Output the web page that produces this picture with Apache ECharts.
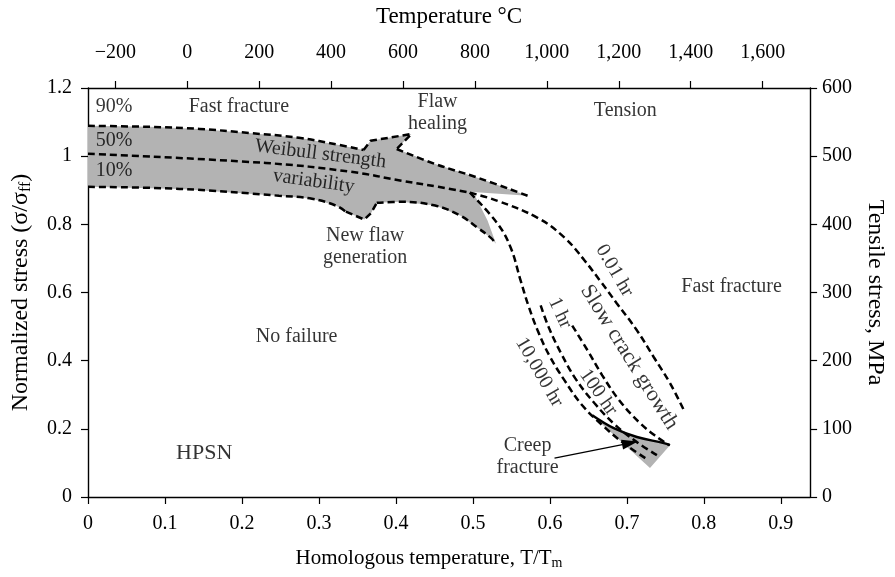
<!DOCTYPE html>
<html><head><meta charset="utf-8">
<script src="https://cdn.jsdelivr.net/npm/echarts@6/dist/echarts.min.js"></script>
<style>html,body{margin:0;padding:0;background:#fff}#c{width:895px;height:577px}</style>
</head><body><div id="c"></div>
<script>
// ---- data (T/Tm, normalized stress) ----
const xTicks = [0,0.1,0.2,0.3,0.4,0.5,0.6,0.7,0.8,0.9];
const tempTicks = [-200,0,200,400,600,800,1000,1200,1400,1600];
const stressTicks = [0,0.2,0.4,0.6,0.8,1,1.2];
const mpaTicks = [0,100,200,300,400,500,600];

const band90 = [[0,1.089],[0.08,1.086],[0.145,1.080],[0.209,1.068],[0.274,1.054],[0.326,1.033],[0.358,1.018]];
const healUpper = [[0.358,1.018],[0.367,1.045],[0.420,1.065],[0.401,1.021]];
const healLower = [[0.401,1.021],[0.451,0.977],[0.506,0.937],[0.571,0.884]];
const band50 = [[0,1.007],[0.231,0.980],[0.342,0.954],[0.407,0.928],[0.455,0.910],[0.496,0.893]];
const band10 = [[0,0.910],[0.119,0.904],[0.248,0.884],[0.291,0.875],[0.322,0.855],[0.335,0.837]];
const newFlaw = [[0.335,0.837],[0.359,0.814],[0.368,0.834],[0.375,0.863]];
const band10b = [[0.375,0.863],[0.407,0.866],[0.451,0.855],[0.484,0.825],[0.506,0.790],[0.523,0.761],[0.530,0.743]];
const tailEdge = [[0.571,0.884],[0.500,0.895],[0.506,0.869],[0.519,0.811],[0.530,0.743]];

const hr001 = [[0.496,0.893],[0.532,0.869],[0.584,0.819],[0.619,0.761],[0.645,0.694],[0.665,0.635],[0.687,0.568],[0.713,0.489],[0.735,0.410],[0.756,0.334],[0.774,0.255]];
const hr10000 = [[0.496,0.893],[0.532,0.802],[0.549,0.732],[0.562,0.635],[0.572,0.562],[0.584,0.489],[0.599,0.416],[0.619,0.342],[0.642,0.269],[0.668,0.211],[0.694,0.161],[0.724,0.114]];
const hr100 = [[0.588,0.562],[0.599,0.495],[0.614,0.424],[0.633,0.348],[0.658,0.275],[0.685,0.211],[0.713,0.161],[0.739,0.123]];
const hr1 = [[0.629,0.503],[0.649,0.430],[0.668,0.357],[0.690,0.284],[0.716,0.219],[0.739,0.176],[0.755,0.152]];

const creepLine = [[0.655,0.240],[0.683,0.202],[0.713,0.176],[0.748,0.158],[0.756,0.152]];
const creepTip = [[0.730,0.085]];
const arrowFrom = [0.606,0.114];
const arrowTo = [0.704,0.158];

const notes = [
  {t:'90%', x:0.034, y:1.144},
  {t:'50%', x:0.034, y:1.045},
  {t:'10%', x:0.034, y:0.957},
  {t:'Fast fracture', x:0.196, y:1.144},
  {t:'Weibull strength', x:0.302, y:1.006, r:-7},
  {t:'variability', x:0.293, y:0.926, r:-8},
  {t:'Flaw\nhealing', x:0.454, y:1.127},
  {t:'Tension', x:0.698, y:1.133},
  {t:'New flaw\ngeneration', x:0.360, y:0.735},
  {t:'Fast fracture', x:0.836, y:0.618},
  {t:'No failure', x:0.271, y:0.471},
  {t:'HPSN', x:0.151, y:0.129, s:22},
  {t:'Creep\nfracture', x:0.571, y:0.117},
  {t:'0.01 hr', x:0.684, y:0.664, r:-60},
  {t:'Slow crack growth', x:0.703, y:0.410, r:-58, s:22},
  {t:'1 hr', x:0.613, y:0.540, r:-65},
  {t:'100 hr', x:0.663, y:0.307, r:-55},
  {t:'10,000 hr', x:0.586, y:0.366, r:-60}
];

// ---- chart ----
const FONT = '"Liberation Serif","Times New Roman",serif';
const GRAY = '#b3b3b3';
const INK = '#000';
const bandPoly = [].concat(band90, healUpper.slice(1), healLower.slice(1), tailEdge.slice(1),
  band10b.slice().reverse().slice(1), newFlaw.slice().reverse().slice(1), band10.slice().reverse().slice(1));
const creepPoly = [].concat(creepLine, creepTip);

function polySeries(points){
  return {type:'custom', xAxisIndex:0, yAxisIndex:0, silent:true, z:1,
    data: points, encode:{x:0,y:1},
    renderItem: function(params, api){
      if (params.dataIndex !== 0) return null;
      return {type:'polygon', shape:{points: points.map(p => api.coord(p))}, style:{fill:GRAY}};
    }};
}
function dashed(data, smooth){
  return {type:'line', data: data, symbol:'none', smooth: smooth ? 0.4 : false, z:3, silent:true,
    lineStyle:{color:INK, width:2.5, type:[7,4]}};
}
const tickFont = {color:INK, fontFamily:FONT, fontSize:20};

const chart = echarts.init(document.getElementById('c'));
chart.setOption({
  animation:false,
  grid:{left:88, right:81, top:88, bottom:80, containLabel:false},
  xAxis:[
    {type:'value', min:0, max:0.938, position:'bottom',
     axisLine:{onZero:false, lineStyle:{color:INK, width:1.4}},
     axisTick:{length:7, customValues:xTicks, lineStyle:{color:INK, width:1.2}},
     splitLine:{show:false},
     axisLabel:Object.assign({customValues:xTicks, margin:17,
       formatter: v => v === 0 ? '0' : v.toFixed(1)}, tickFont),
     name:'{a|Homologous temperature, T/T}{s|m}', nameLocation:'middle', nameGap:49,
     nameTextStyle:{padding:[0,40,0,0], rich:{a:{fontFamily:FONT, fontSize:21, color:INK}, s:{fontFamily:FONT, fontSize:14, color:INK, padding:[10,0,0,0]}}}},
    {type:'value', min:-276, max:1732, position:'top',
     axisLine:{onZero:false, lineStyle:{color:INK, width:1.4}},
     axisTick:{length:7, customValues:tempTicks, lineStyle:{color:INK, width:1.2}},
     splitLine:{show:false},
     axisLabel:Object.assign({customValues:tempTicks, margin:25,
       formatter: v => (v < 0 ? '\u2212' : '') + Math.abs(v).toLocaleString('en-US')}, tickFont),
     name:'Temperature \u00B0C', nameLocation:'middle', nameGap:60,
     nameTextStyle:{fontFamily:FONT, fontSize:23, color:INK}}
  ],
  yAxis:[
    {type:'value', min:0, max:1.2, position:'left',
     axisLine:{show:true, onZero:false, lineStyle:{color:INK, width:1.4}},
     axisTick:{show:true, length:7, customValues:stressTicks, lineStyle:{color:INK, width:1.2}},
     splitLine:{show:false},
     axisLabel:Object.assign({customValues:stressTicks, margin:16,
       formatter: v => String(Math.round(v*10)/10)}, tickFont),
     name:'{a|Normalized stress (\u03C3/\u03C3}{s|ff}{a|)}', nameLocation:'middle', nameGap:54, nameRotate:90,
     nameTextStyle:{rich:{a:{fontFamily:FONT, fontSize:24, color:INK}, s:{fontFamily:FONT, fontSize:16, color:INK, padding:[10,0,0,0]}}}},
    {type:'value', min:0, max:600, position:'right',
     axisLine:{show:true, onZero:false, lineStyle:{color:INK, width:1.4}},
     axisTick:{show:true, length:7, customValues:mpaTicks, lineStyle:{color:INK, width:1.2}},
     splitLine:{show:false},
     axisLabel:Object.assign({customValues:mpaTicks, margin:12}, tickFont),
     name:'Tensile stress, MPa', nameLocation:'middle', nameGap:52, nameRotate:-90,
     nameTextStyle:{fontFamily:FONT, fontSize:24, color:INK}}
  ],
  series:[
    polySeries(bandPoly),
    polySeries(creepPoly),
    dashed(band90, true),
    dashed(healUpper, false),
    dashed(healLower, true),
    dashed(band50, true),
    dashed(band10, true),
    dashed(newFlaw, false),
    dashed(band10b, true),
    dashed(hr001, true),
    dashed(hr10000, true),
    dashed(hr100, true),
    dashed(hr1, true),
    {type:'line', data:creepLine, symbol:'none', smooth:0.4, z:4, silent:true,
     lineStyle:{color:INK, width:2.4, type:'solid'},
     markLine:{silent:true, symbol:['none','triangle'], symbolSize:[10,16], label:{show:false},
       lineStyle:{color:INK, width:1.4, type:'solid'},
       data:[[{coord:arrowFrom},{coord:arrowTo}]]}},
    {type:'scatter', symbolSize:0, z:5, silent:true,
     data: notes.map(n => ({value:[n.x, n.y], label:{show:true, position:'inside', formatter:n.t, rotate:n.r || 0,
       color:INK, fontFamily:FONT, fontSize:n.s || 20, lineHeight:22}})),
     label:{show:true}}
  ]
});
</script></body></html>
